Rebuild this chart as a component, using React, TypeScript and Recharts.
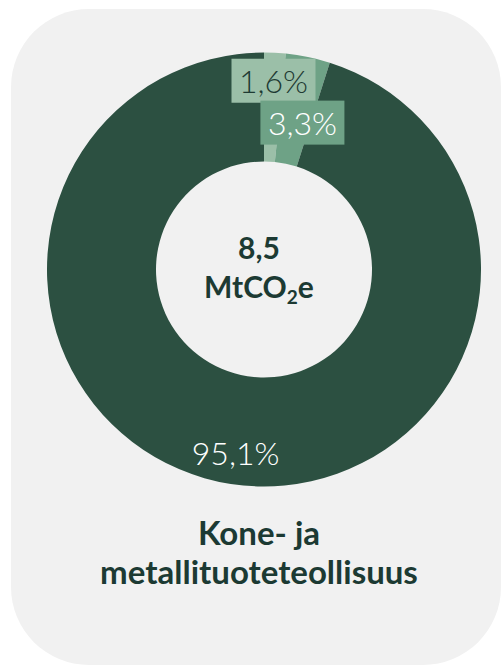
import { PieChart, Pie, Cell } from "recharts";

const categories = ["A", "B", "Kone- ja metallituoteteollisuus"];
const shares = [1.6, 3.3, 95.1];
const shareLabels = ["1,6%", "3,3%", "95,1%"];
const sliceColors = ["#9bbfa8", "#6ea286", "#2c5041"];
const totalLabel = "8,5";
const titleLines = ["Kone- ja", "metallituoteteollisuus"];

const data = categories.map((name, i) => ({ name, value: shares[i] }));

const RAD = Math.PI / 180;
// label radius + nudges per slice
const labelRadius = [189, 150, 185];
const labelNudge = [0, 8, 0];

function SliceLabel(props: any) {
  const { cx, cy, midAngle, index } = props;
  const r = labelRadius[index];
  const x = cx + r * Math.cos(-midAngle * RAD) + labelNudge[index];
  const y = cy + r * Math.sin(-midAngle * RAD);
  const boxed = index < 2;
  return (
    <g>
      {boxed && (
        <rect x={x - 42} y={y - 22} width={84} height={44} fill={sliceColors[index]} />
      )}
      <text
        x={x}
        y={y}
        textAnchor="middle"
        dominantBaseline="central"
        fontFamily="Lato, sans-serif"
        fontWeight={300}
        fontSize={32}
        fill={index === 0 ? "#1e3a33" : "#ffffff"}
      >
        {shareLabels[index]}
      </text>
    </g>
  );
}

const textStyle = {
  fontFamily: "Lato, sans-serif",
  fontWeight: 700,
  color: "#1c3a33",
  textAlign: "center" as const,
};

export default function App() {
  return (
    <div style={{ position: "absolute", left: 0, top: 0, width: 502, height: 666, background: "#fff", overflow: "hidden" }}>
      <div
        style={{
          position: "absolute",
          left: 11,
          top: 9,
          width: 490,
          height: 656,
          background: "#f1f1f1",
          borderRadius: 78,
        }}
      />
      <div style={{ position: "absolute", left: 0, top: 0 }}>
        <PieChart width={502} height={666}>
          <Pie
            data={data}
            dataKey="value"
            nameKey="name"
            cx={259}
            cy={264.5}
            innerRadius={108}
            outerRadius={217}
            startAngle={90}
            endAngle={-270}
            stroke="none"
            label={SliceLabel}
            labelLine={false}
            isAnimationActive={false}
          >
            {data.map((d, i) => (
              <Cell key={d.name} fill={sliceColors[i]} />
            ))}
          </Pie>
        </PieChart>
      </div>
      <div style={{ ...textStyle, position: "absolute", left: 159, width: 200, top: 228, fontSize: 30, lineHeight: "39px" }}>
        <div>{totalLabel}</div>
        <div>
          MtCO<sub style={{ fontSize: 19, verticalAlign: "-6px", lineHeight: 0 }}>2</sub>e
        </div>
      </div>
      <div
        style={{
          ...textStyle,
          position: "absolute",
          left: 9,
          width: 500,
          top: 513,
          fontSize: 33,
          lineHeight: "39px",
        }}
      >
        {titleLines.map((l) => (
          <div key={l}>{l}</div>
        ))}
      </div>
    </div>
  );
}
